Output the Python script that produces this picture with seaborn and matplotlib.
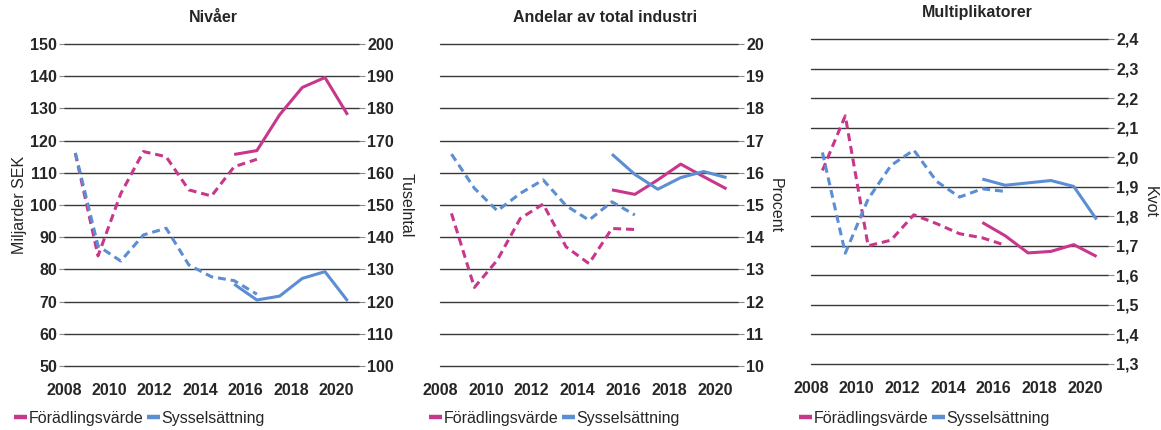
import numpy as np
import matplotlib
matplotlib.use('Agg')
import matplotlib.pyplot as plt
import seaborn as sns
from matplotlib.lines import Line2D
from matplotlib.ticker import MultipleLocator, FuncFormatter

# ── Data ──
years_old = [2008, 2009, 2010, 2011, 2012, 2013, 2014, 2015, 2016]
years_new = [2015, 2016, 2017, 2018, 2019, 2020]

# Nivåer: förädlingsvärde (miljarder SEK), sysselsättning (tusental)
niva_fv_old = [116.0, 84.2, 103.5, 116.6, 115.0, 104.7, 102.8, 111.9, 114.2]
niva_fv_new = [115.7, 116.9, 128.0, 136.5, 139.6, 128.0]
niva_ss_old = [166.2, 137.3, 132.6, 140.7, 142.8, 131.4, 127.7, 126.5, 122.3]
niva_ss_new = [125.4, 120.5, 121.7, 127.2, 129.3, 120.2]

# Andelar av total industri (procent)
andel_fv_old = [14.74, 12.44, 13.29, 14.58, 15.03, 13.70, 13.18, 14.27, 14.24]
andel_fv_new = [15.47, 15.33, 15.78, 16.27, 15.88, 15.50]
andel_ss_old = [16.58, 15.52, 14.82, 15.36, 15.78, 14.98, 14.53, 15.10, 14.69]
andel_ss_new = [16.58, 15.95, 15.49, 15.85, 16.04, 15.85]

# Multiplikatorer (kvot)
multi_fv_old = [1.955, 2.140, 1.700, 1.719, 1.805, 1.775, 1.741, 1.727, 1.702]
multi_fv_new = [1.779, 1.734, 1.676, 1.681, 1.704, 1.664]
multi_ss_old = [2.016, 1.675, 1.858, 1.972, 2.024, 1.918, 1.865, 1.893, 1.884]
multi_ss_new = [1.926, 1.905, 1.913, 1.921, 1.901, 1.789]

titles = ['Nivåer', 'Andelar av total industri', 'Multiplikatorer']
series_names = ['Förädlingsvärde', 'Sysselsättning']

PINK = '#c8378b'
BLUE = '#5b8ed2'
GRID = '#383838'
TICK = '#8a8a8a'
LW = 2.2
FS = 11.5

sns.set_style('white')
plt.rcParams['font.family'] = ['Liberation Sans', 'DejaVu Sans']
plt.rcParams['font.size'] = FS

W, H = 1161, 430
fig = plt.figure(figsize=(W / 100, H / 100), dpi=100)


def add_axes(left, right, top, bottom):
    return fig.add_axes([left / W, 1 - bottom / H, (right - left) / W, (bottom - top) / H])


def draw(ax, yrs, vals, color, dashed):
    sns.lineplot(x=np.array(yrs) + 0.5, y=vals, ax=ax, color=color, lw=LW,
                 legend=False, solid_capstyle='butt', dash_capstyle='butt')
    if dashed:
        ax.lines[-1].set_dashes([2.6, 1.6])


def style(ax, ymin, ymax, step, side, grid=True, fmt=None):
    ax.set_xlim(2008, 2021)
    ax.set_ylim(ymin, ymax)
    ax.yaxis.set_major_locator(MultipleLocator(step))
    ax.xaxis.set_major_locator(MultipleLocator(2))
    for s in ax.spines.values():
        s.set_visible(False)
    ax.grid(False)
    if grid:
        ax.grid(axis='y', color=GRID, lw=1.0)
    ax.set_axisbelow(True)
    ax.set_xlabel('')
    ax.set_ylabel('')
    ax.tick_params(axis='x', length=3, width=0.8, color=TICK, pad=9,
                   labelsize=FS)
    for lab in ax.get_xticklabels():
        lab.set_fontweight('bold')
    if side == 'left':
        ax.tick_params(axis='y', left=True, right=False, labelleft=True,
                       labelright=False, length=3.5, width=0.8, color=TICK,
                       pad=1.5, labelsize=FS)
    else:
        ax.tick_params(axis='y', left=False, right=True, labelleft=False,
                       labelright=True, length=4, width=0.8, color=TICK,
                       pad=2, labelsize=FS)
    if fmt is not None:
        ax.yaxis.set_major_formatter(FuncFormatter(fmt))
    for lab in ax.get_yticklabels():
        lab.set_fontweight('bold')
    # keep the top and bottom gridlines whole
    for gl in ax.get_ygridlines():
        gl.set_clip_on(False)


# ── Panel 1: Nivåer ──
ax1 = add_axes(64, 359, 44, 366)
ax1b = ax1.twinx()
draw(ax1, years_old, niva_fv_old, PINK, True)
draw(ax1b, years_old, niva_ss_old, BLUE, True)
draw(ax1, years_new, niva_fv_new, PINK, False)
draw(ax1b, years_new, niva_ss_new, BLUE, False)
style(ax1, 50, 150, 10, 'left')
style(ax1b, 100, 200, 10, 'right', grid=False)
ax1b.tick_params(axis='x', bottom=False, labelbottom=False)

# ── Panel 2: Andelar ──
ax2 = add_axes(440, 738, 44, 366)
draw(ax2, years_old, andel_fv_old, PINK, True)
draw(ax2, years_old, andel_ss_old, BLUE, True)
draw(ax2, years_new, andel_fv_new, PINK, False)
draw(ax2, years_new, andel_ss_new, BLUE, False)
style(ax2, 10, 20, 1, 'right')

# ── Panel 3: Multiplikatorer ──
ax3 = add_axes(811, 1108, 39, 364)
draw(ax3, years_old, multi_fv_old, PINK, True)
draw(ax3, years_old, multi_ss_old, BLUE, True)
draw(ax3, years_new, multi_fv_new, PINK, False)
draw(ax3, years_new, multi_ss_new, BLUE, False)
style(ax3, 1.3, 2.4, 0.1, 'right',
      fmt=lambda v, p: f'{v:.1f}'.replace('.', ','))

# ── Titles and axis labels ──
for title, (x, y) in zip(titles, [(213, 18), (605, 18), (977, 13)]):
    fig.text(x / W, 1 - y / H, title, ha='center', va='center',
             fontsize=FS, fontweight='bold')

for text, x, y, rot in [('Miljarder SEK', 19.5, 205, 90),
                        ('Tuselntal', 406, 205, 270),
                        ('Procent', 775, 206, 270),
                        ('Kvot', 1150, 202, 270)]:
    fig.text(x / W, 1 - y / H, text, ha='center', va='center',
             rotation=rot, fontsize=FS)

# ── Legends ──
handles = [Line2D([], [], color=PINK, lw=3.2, solid_capstyle='butt'),
           Line2D([], [], color=BLUE, lw=3.2, solid_capstyle='butt')]
for x in [14, 429, 799]:
    fig.legend(handles, series_names, loc='center left',
               bbox_to_anchor=(x / W, 1 - 418 / H), ncol=2, frameon=False,
               fontsize=FS, handlelength=0.8, handletextpad=0.1,
               columnspacing=0.25, borderpad=0, borderaxespad=0)

plt.savefig('out.png', dpi=100)
